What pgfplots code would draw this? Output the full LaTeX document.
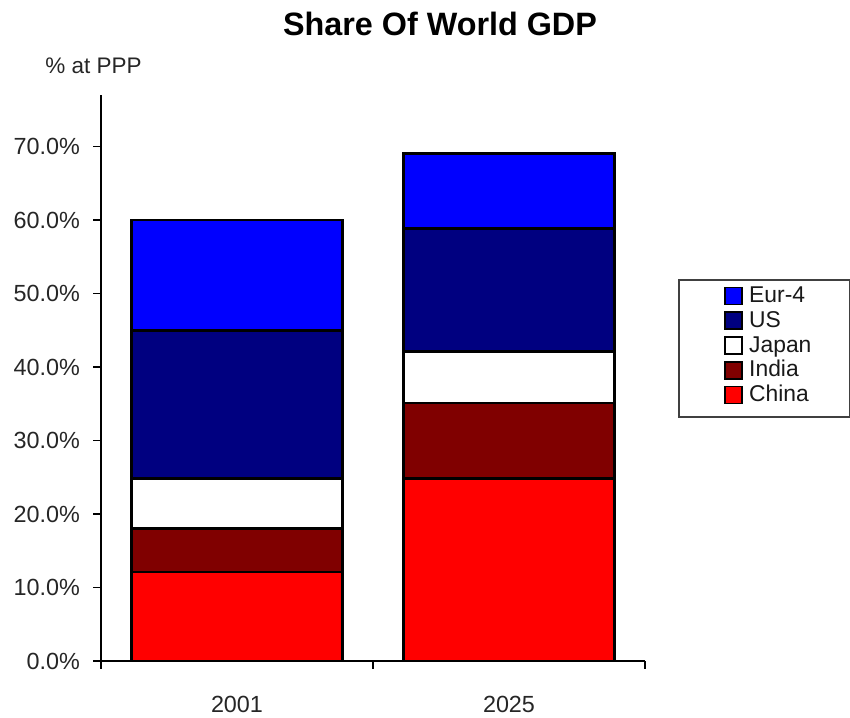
\documentclass[border=0pt]{standalone}
\usepackage{fontspec}
\setmainfont{Liberation Sans}
\usepackage{pgfplots}
\pgfplotsset{compat=1.18}

\definecolor{eurblue}{RGB}{0,0,255}
\definecolor{usnavy}{RGB}{0,0,128}
\definecolor{indiamaroon}{RGB}{128,0,0}
\definecolor{chinared}{RGB}{255,0,0}

% Share of world GDP at PPP (%), 2001 at x=0.5, 2025 at x=1.5
\pgfplotstableread{
x    china india japan us   eur
0.5  12.1  5.9   6.8   20.2 15.0
1.5  24.8  10.3  7.0   16.7 10.2
}\gdpdata

\begin{document}
\begin{tikzpicture}
\useasboundingbox (0,0) rectangle (17cm,14.34cm);
\begin{axis}[
  at={(2.02cm,1.12cm)}, anchor=south west,
  scale only axis,
  width=10.88cm, height=11.32cm,
  xmin=0, xmax=2, ymin=0, ymax=77,
  axis x line*=bottom, axis y line*=left,
  axis line style={line width=0.85pt, black},
  ybar stacked, bar width=0.776,
  tick align=outside,
  major tick length=0.15cm,
  xtick={0,1,2}, xticklabels={},
  x tick style={line width=0.85pt, black},
  extra x ticks={0.5,1.5},
  extra x tick labels={2001,2025},
  extra x tick style={major tick length=0pt,
    xticklabel style={yshift=-0.58cm}},
  ytick={0,10,...,70},
  y tick style={line width=0.85pt, black},
  /pgf/number format/assume math mode=true,
  yticklabel={\pgfmathprintnumber[fixed,fixed zerofill,precision=1]{\tick}\%},
  yticklabel style={xshift=-0.15cm},
  tick label style={font=\fontsize{13.3}{15}\selectfont, text=black!85},
  every axis plot/.append style={draw=black, line width=1.6pt},
  reverse legend,
  legend cell align=left,
  legend style={
    at={(1.0607,0.6744)}, anchor=north west,
    draw=black!75, line width=1pt,
    font=\fontsize{13}{15}\selectfont, text=black!90,
    inner xsep=0.77cm, inner ysep=0.13cm,
    nodes={text height=0.30cm, text depth=0.18cm, inner ysep=0pt, inner xsep=0pt},
  },
  legend image code/.code={
    \path (-0.12cm,0cm);
    \draw[#1, draw=black, line width=0.9pt] (0cm,-0.1cm) rectangle (0.34cm,0.24cm);
    \path (0.46cm,0cm);
  },
]
\addplot[fill=chinared]    table[x=x, y=china] {\gdpdata};
\addplot[fill=indiamaroon] table[x=x, y=india] {\gdpdata};
\addplot[fill=white]       table[x=x, y=japan] {\gdpdata};
\addplot[fill=usnavy]      table[x=x, y=us]    {\gdpdata};
\addplot[fill=eurblue]     table[x=x, y=eur]   {\gdpdata};
\legend{China,India,Japan,US,Eur-4}
\end{axis}
\node[anchor=base, font=\bfseries\fontsize{18.4}{22}\selectfont] at (8.8cm,13.62cm) {Share Of World GDP};
\node[anchor=base, font=\fontsize{12.8}{15}\selectfont, text=black!85] at (1.87cm,12.87cm) {\% at PPP};
\end{tikzpicture}
\end{document}
